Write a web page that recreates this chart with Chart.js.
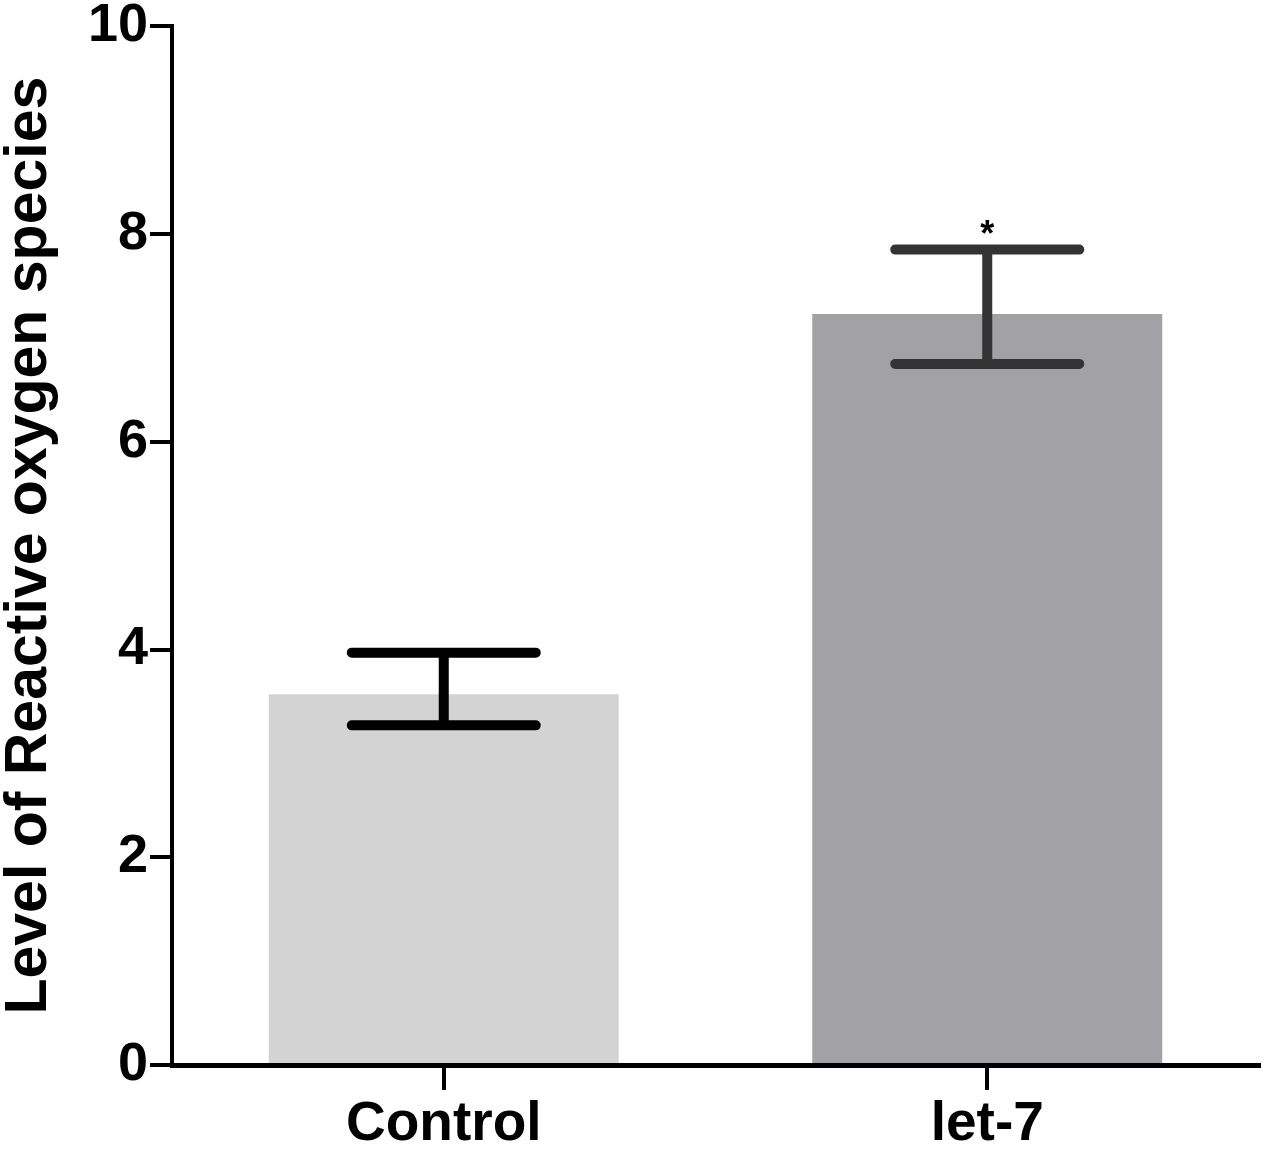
<!DOCTYPE html>
<html>
<head>
<meta charset="utf-8">
<script src="https://cdn.jsdelivr.net/npm/chart.js@4"></script>
<style>
  html, body { margin: 0; padding: 0; background: #fff; }
  #wrap { width: 1267px; height: 1150px; }
</style>
</head>
<body>
<div id="wrap"><canvas id="chart-area" width="1267" height="1150"></canvas></div>
<script>
var groups = ['Control', 'let-7'];
var means = [3.57, 7.23];
var errHigh = [3.97, 7.85];
var errLow = [3.27, 6.75];
var marks = ['', '*'];
var barColors = ['rgb(211, 211, 211)', 'rgb(162, 161, 166)'];
var errColors = ['#000000', '#333333'];
var yTicks = [0, 2, 4, 6, 8, 10];

var font = 'Liberation Sans, Arial, sans-serif';

var errorBars = {
  id: 'errorBars',
  afterDatasetsDraw: function(chart) {
    var ctx = chart.ctx;
    var x = chart.scales.x, y = chart.scales.y;
    ctx.save();
    ctx.lineCap = 'round';
    for (var i = 0; i < groups.length; i++) {
      var cx = x.getPixelForValue(i);
      var top = y.getPixelForValue(errHigh[i]);
      var bot = y.getPixelForValue(errLow[i]);
      ctx.strokeStyle = errColors[i];
      ctx.lineWidth = 10;
      ctx.beginPath();
      ctx.moveTo(cx, top); ctx.lineTo(cx, bot);
      ctx.moveTo(cx - 92, top); ctx.lineTo(cx + 92, top);
      ctx.moveTo(cx - 92, bot); ctx.lineTo(cx + 92, bot);
      ctx.stroke();
      if (marks[i]) {
        ctx.fillStyle = '#000';
        ctx.font = 'bold 36px ' + font;
        ctx.textAlign = 'center';
        ctx.textBaseline = 'bottom';
        ctx.fillText(marks[i], cx, top + 4);
      }
    }
    ctx.restore();
  }
};

var config = {
  type: 'bar',
  data: {
    labels: groups,
    datasets: [{
      data: means,
      backgroundColor: barColors,
      borderWidth: 0,
      barPercentage: 0.644,
      categoryPercentage: 1.0
    }]
  },
  options: {
    responsive: false,
    animation: false,
    layout: { padding: { top: 25, right: 8, left: 0, bottom: 0 } },
    plugins: {
      legend: { display: false },
      tooltip: { enabled: false }
    },
    scales: {
      x: {
        grid: {
          offset: false,
          drawOnChartArea: false,
          drawTicks: true,
          tickLength: 25,
          lineWidth: 4,
          color: '#000'
        },
        border: { display: true, width: 5, color: '#000' },
        ticks: {
          color: '#000',
          padding: 7,
          font: { family: font, size: 55, weight: 'bold', lineHeight: 1.0 }
        },
        afterFit: function(scale) { scale.height = 85; }
      },
      y: {
        min: 0,
        max: 10,
        afterBuildTicks: function(scale) {
          scale.ticks = yTicks.map(function(v) { return { value: v }; });
        },
        grid: {
          drawOnChartArea: false,
          drawTicks: true,
          tickLength: 22,
          lineWidth: 4,
          color: '#000'
        },
        border: { display: true, width: 4, color: '#000' },
        ticks: {
          color: '#000',
          padding: 2,
          font: { family: font, size: 54, weight: 'bold', lineHeight: 0.9 }
        },
        title: {
          display: true,
          text: 'Level of Reactive oxygen species',
          color: '#000',
          padding: { top: 0, bottom: 4 },
          font: { family: font, size: 59, weight: 'bold', lineHeight: 1.0 }
        },
        afterFit: function(scale) { scale.width = 172; }
      }
    }
  },
  plugins: [errorBars]
};

window.onload = function() {
  var ctx = document.getElementById('chart-area').getContext('2d');
  window.myBar = new Chart(ctx, config);
};
</script>
</body>
</html>
